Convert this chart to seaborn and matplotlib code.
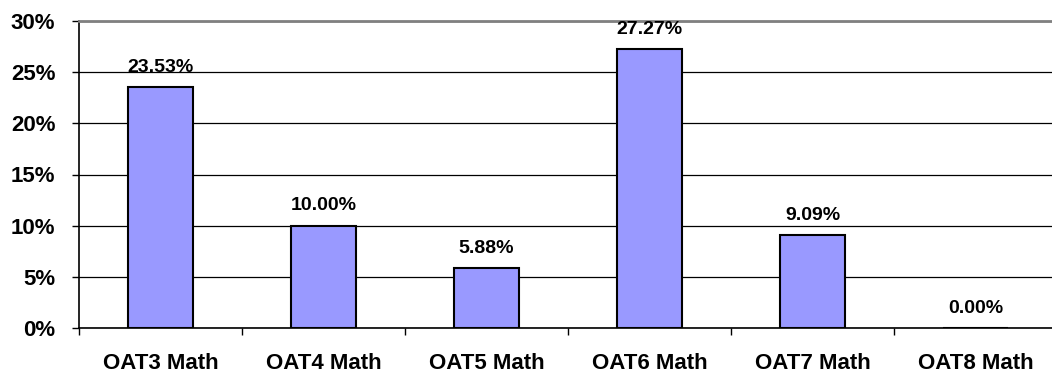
import matplotlib
matplotlib.use("Agg")
import matplotlib.pyplot as plt
import seaborn as sns
import pandas as pd
import numpy as np
from matplotlib.ticker import FixedLocator, FuncFormatter

categories = ["OAT3 Math", "OAT4 Math", "OAT5 Math", "OAT6 Math", "OAT7 Math", "OAT8 Math"]
values = [23.53, 10.00, 5.88, 27.27, 9.09, 0.00]
y_ticks = [0, 5, 10, 15, 20, 25, 30]

sns.set_style("white")
plt.rcParams['font.family'] = ['Liberation Sans', 'DejaVu Sans']
plt.rcParams['font.weight'] = 'bold'
plt.rcParams['text.color'] = 'black'
plt.rcParams['xtick.color'] = 'black'
plt.rcParams['ytick.color'] = 'black'

df = pd.DataFrame({"cat": categories, "val": values})

fig = plt.figure(figsize=(10.52, 3.75), dpi=100)
ax = fig.add_axes([79/1052, 1-328/375, 978/1052, 307/375])

sns.barplot(data=df, x="cat", y="val", ax=ax, color="#9999FF", saturation=1,
            width=0.4, edgecolor="black", linewidth=1.5, zorder=3)

ax.set_ylim(0, 30)
ax.set_xlim(-0.5, len(categories) - 0.5)
ax.yaxis.set_major_locator(FixedLocator(y_ticks))
ax.yaxis.set_major_formatter(FuncFormatter(lambda v, p: f"{v:.0f}%"))
ax.yaxis.grid(True, color="black", linewidth=0.9, zorder=0)
ax.set_axisbelow(True)

# category ticks at boundaries, labels at centers
ax.xaxis.set_major_locator(FixedLocator(np.arange(len(categories) + 1) - 0.5))
ax.xaxis.set_minor_locator(FixedLocator(np.arange(len(categories))))
ax.set_xticklabels([], minor=False)
ax.set_xticklabels(categories, minor=True)
ax.tick_params(axis="x", which="major", direction="out", length=5, width=1, color="black", bottom=True)
ax.tick_params(axis="x", which="minor", length=0, pad=18, labelsize=16, labelcolor="black")
ax.tick_params(axis="y", which="major", direction="out", length=5, width=1, color="black",
               left=True, pad=12, labelsize=16, labelcolor="black")
for lbl in ax.get_xticklabels(minor=True) + ax.get_yticklabels():
    lbl.set_fontweight("bold")

ax.set_xlabel("")
ax.set_ylabel("")

for s in ["left", "bottom"]:
    ax.spines[s].set_color("black")
    ax.spines[s].set_linewidth(1.2)
ax.spines["top"].set_color("#808080")
ax.spines["top"].set_linewidth(2)
ax.spines["right"].set_visible(False)

for i, v in enumerate(values):
    ax.annotate(f"{v:.2f}%", xy=(i, v), xytext=(0, 11), textcoords="offset points",
                ha="center", va="baseline", fontsize=14, fontweight="bold",
                color="black", clip_on=False)

fig.savefig("out.png", dpi=100)
